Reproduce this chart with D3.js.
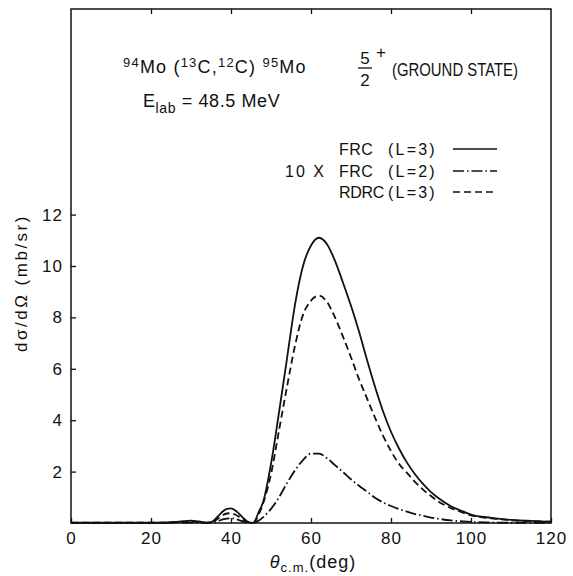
<!DOCTYPE html>
<html>
<head>
<meta charset="utf-8">
<script src="https://cdn.jsdelivr.net/npm/d3@7"></script>
<style>
  body { margin: 0; background: #fff; }
  svg { display: block; }
  text { font-family: "Liberation Sans", Arial, sans-serif; fill: #111; }
</style>
</head>
<body>
<svg id="chart" width="573" height="576"></svg>
<script>
// angles (deg, c.m.)
const angle = [0, 5, 10, 15, 20, 24, 26, 28, 30, 32, 34, 35, 36, 37, 38, 39, 40, 41, 42, 43, 44, 45.5,
  47, 48, 50, 52, 54, 56, 58, 60, 62, 64, 66, 68, 70, 72, 74, 76, 78, 80, 82, 84, 86, 88, 90, 92, 95, 98, 100, 105, 110, 115, 120];

// FRC (L=3), solid
const frcL3 = [0.01, 0.01, 0.01, 0.01, 0.01, 0.02, 0.04, 0.07, 0.09, 0.06, 0.01, 0.03, 0.14, 0.3, 0.46, 0.55, 0.57, 0.5, 0.36, 0.2, 0.07, 0,
  0.45, 0.8, 2.3, 4.3, 6.4, 8.5, 10.0, 10.8, 11.1, 10.85, 10.2, 9.35, 8.45, 7.45, 6.35, 5.3, 4.35, 3.55, 2.9, 2.35, 1.9, 1.52, 1.2, 0.95, 0.65, 0.45, 0.33, 0.2, 0.12, 0.08, 0.05];

// 10 x FRC (L=2), dash-dot
const frcL2x10 = [0.005, 0.005, 0.005, 0.005, 0.005, 0.005, 0.01, 0.015, 0.02, 0.015, 0.005, 0.01, 0.04, 0.09, 0.14, 0.17, 0.18, 0.16, 0.11, 0.06, 0.02, 0,
  0.1, 0.22, 0.55, 1.0, 1.55, 2.05, 2.45, 2.7, 2.7, 2.52, 2.25, 1.98, 1.7, 1.45, 1.22, 0.98, 0.8, 0.66, 0.54, 0.44, 0.35, 0.28, 0.21, 0.16, 0.1, 0.06, 0.04, 0.02, 0.01, 0.01, 0.01];

// RDRC (L=3), dashed
const rdrcL3 = [0.01, 0.01, 0.01, 0.01, 0.01, 0.015, 0.025, 0.04, 0.05, 0.035, 0.01, 0.02, 0.09, 0.2, 0.31, 0.37, 0.38, 0.33, 0.24, 0.13, 0.05, 0,
  0.35, 0.75, 1.9, 3.6, 5.3, 6.9, 8.1, 8.65, 8.85, 8.6, 8.0, 7.25, 6.45, 5.6, 4.85, 4.1, 3.4, 2.8, 2.3, 1.95, 1.6, 1.3, 1.05, 0.82, 0.58, 0.4, 0.3, 0.18, 0.11, 0.07, 0.05];

const xTicks = [0, 20, 40, 60, 80, 100, 120];
const yTicks = [2, 4, 6, 8, 10, 12];

const series = [
  {name: "FRC", l: "(L=3)", pre: "", values: frcL3, dash: null},
  {name: "FRC", l: "(L=2)", pre: "10 X", values: frcL2x10, dash: "11,3,1.5,3"},
  {name: "RDRC", l: "(L=3)", pre: "", values: rdrcL3, dash: "7,4"}
];

const svg = d3.select("#chart");

const x = d3.scaleLinear().domain([0, 120]).range([71, 551]);
const y = d3.scaleLinear().domain([0, 20]).range([523, 9]);

// frame
svg.append("rect")
  .attr("x", x(0)).attr("y", y(20))
  .attr("width", x(120) - x(0)).attr("height", y(0) - y(20))
  .attr("fill", "none").attr("stroke", "#111").attr("stroke-width", 1.5);

// axes
const xAxis = svg.append("g")
  .attr("transform", `translate(0,${y(0)})`)
  .call(d3.axisBottom(x).tickValues(xTicks).tickSizeInner(-5).tickSizeOuter(0).tickPadding(9));

const xTop = svg.append("g")
  .attr("transform", `translate(0,${y(20)})`)
  .call(d3.axisTop(x).tickValues(xTicks.slice(1, -1)).tickSizeInner(-5).tickSizeOuter(0).tickFormat(""));

const yAxis = svg.append("g")
  .attr("transform", `translate(${x(0)},0)`)
  .call(d3.axisLeft(y).tickValues(yTicks).tickSizeInner(-5).tickSizeOuter(0).tickPadding(8));

[xAxis, xTop, yAxis].forEach(g => {
  g.select(".domain").remove();
  g.selectAll("line").attr("stroke", "#111").attr("stroke-width", 1.3);
  g.selectAll("text").attr("font-size", 17).attr("fill", "#111")
    .attr("letter-spacing", 1)
    .style("font-family", '"Liberation Sans", Arial, sans-serif');
});

// curves
const line = d3.line()
  .x((d, i) => x(angle[i]))
  .y(d => y(d))
  .curve(d3.curveMonotoneX);

svg.append("g")
  .selectAll("path")
  .data(series)
  .join("path")
  .attr("d", d => line(d.values))
  .attr("fill", "none")
  .attr("stroke", "#111")
  .attr("stroke-width", 1.8)
  .attr("stroke-dasharray", d => d.dash);

// axis labels
svg.append("text")
  .attr("transform", "translate(27,283) rotate(-90)")
  .attr("text-anchor", "middle")
  .attr("font-size", 17)
  .attr("letter-spacing", 2.5)
  .text("dσ/dΩ (mb/sr)");

const xl = svg.append("text")
  .attr("x", 313).attr("y", 568)
  .attr("text-anchor", "middle")
  .attr("font-size", 18)
  .attr("letter-spacing", 1);
xl.append("tspan").attr("font-style", "italic").text("θ");
xl.append("tspan").attr("font-size", 13).attr("dy", 4).text("c.m.");
xl.append("tspan").attr("dy", -4).text("(deg)");

// title
const t1 = svg.append("text").attr("x", 123).attr("y", 73).attr("font-size", 18).attr("letter-spacing", 1.2);
t1.append("tspan").attr("font-size", 13).attr("dy", -6).text("94");
t1.append("tspan").attr("dy", 6).text("Mo (");
t1.append("tspan").attr("font-size", 13).attr("dy", -6).text("13");
t1.append("tspan").attr("dy", 6).text("C,");
t1.append("tspan").attr("font-size", 13).attr("dy", -6).text("12");
t1.append("tspan").attr("dy", 6).text("C) ");
t1.append("tspan").attr("font-size", 13).attr("dy", -6).text("95");
t1.append("tspan").attr("dy", 6).text("Mo");

svg.append("text").attr("x", 365).attr("y", 64).attr("text-anchor", "middle").attr("font-size", 17).text("5");
svg.append("line").attr("x1", 358).attr("x2", 372).attr("y1", 68).attr("y2", 68)
  .attr("stroke", "#111").attr("stroke-width", 1.3);
svg.append("text").attr("x", 365).attr("y", 86).attr("text-anchor", "middle").attr("font-size", 17).text("2");
svg.append("text").attr("x", 376).attr("y", 58).attr("font-size", 17).text("+");
svg.append("text").attr("x", 392).attr("y", 76).attr("font-size", 18)
  .attr("textLength", 126).attr("lengthAdjust", "spacingAndGlyphs").text("(GROUND STATE)");

const t2 = svg.append("text").attr("x", 143).attr("y", 107).attr("font-size", 18).attr("letter-spacing", 0.6);
t2.append("tspan").text("E");
t2.append("tspan").attr("font-size", 14).attr("dy", 6).text("lab");
t2.append("tspan").attr("dy", -6).text(" = 48.5 MeV");

// legend
const rowY = [155, 177, 198];
const leg = svg.append("g").selectAll("g")
  .data(series)
  .join("g")
  .attr("transform", (d, i) => `translate(0,${rowY[i]})`);

leg.append("text").attr("x", 285).attr("font-size", 16).attr("letter-spacing", 2).text(d => d.pre);
leg.append("text").attr("x", 339)
  .attr("font-size", 16)
  .attr("letter-spacing", (d, i) => i === 2 ? -0.3 : 0.5)
  .text(d => d.name);
leg.append("text").attr("x", 388).attr("font-size", 16).attr("letter-spacing", 2.2).text(d => d.l);
leg.append("line")
  .attr("x1", 453).attr("x2", 497).attr("y1", -6).attr("y2", -6)
  .attr("stroke", "#111").attr("stroke-width", 1.6)
  .attr("stroke-dasharray", d => d.dash);
</script>
</body>
</html>
